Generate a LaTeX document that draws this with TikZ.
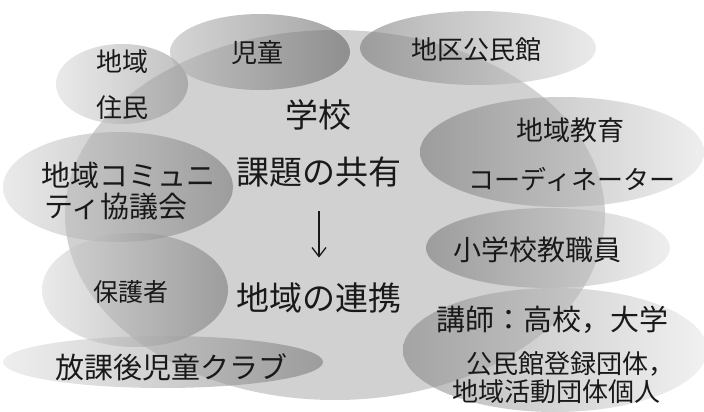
\documentclass[tikz,border=0pt]{standalone}
\usepackage{fontspec}
\newfontfamily\jp{Noto Sans CJK JP}
\usetikzlibrary{arrows.meta}
\begin{document}
\begin{tikzpicture}[x=1pt,y=-1pt,
  blob/.style={fill opacity=0.55},
  lbl/.style={font={\jp\fontsize{#1pt}{#1pt}\selectfont}, inner sep=0pt, text=black!90},
  flow/.style={line width=1.3pt, black!90, -{Straight Barb[length=9pt,width=14pt,line width=1.3pt]}}]
\useasboundingbox (0,0) rectangle (704,412);
% central ellipse
\fill[black!18] (335,215) ellipse [x radius=270pt, y radius=185pt];
% surrounding ellipses
\shade[blob, left color=black!15, right color=black!45] (122,84) ellipse [x radius=66pt, y radius=40pt];
\shade[blob, left color=black!30, right color=black!65] (260,52) ellipse [x radius=90pt, y radius=38pt];
\shade[blob, left color=black!55, right color=black!15] (478,48) ellipse [x radius=118pt, y radius=37pt];
\shade[blob, left color=black!15, right color=black!55] (118,187) ellipse [x radius=115pt, y radius=55pt];
\shade[blob, left color=black!55, right color=black!12] (562,152) ellipse [x radius=142pt, y radius=55pt];
\shade[blob, left color=black!55, right color=black!12] (548,248) ellipse [x radius=122pt, y radius=40pt];
\shade[blob, left color=black!15, right color=black!55] (135,290) ellipse [x radius=93pt, y radius=57pt];
\shade[blob, left color=black!12, right color=black!55] (163,362) ellipse [x radius=160pt, y radius=26pt];
\shade[blob, left color=black!50, right color=black!10] (555,350) ellipse [x radius=152pt, y radius=62pt];
% labels
\node[lbl=26] (chiiki) at (122,62) {地域};
\node[lbl=26] (jumin) at (122,108) {住民};
\node[lbl=26] (jido) at (257,53) {児童};
\node[lbl=26] (kominkan) at (476,50) {地区公民館};
\node[lbl=33] (gakko) at (318,115) {学校};
\node[lbl=33] (kadai) at (319,172) {課題の共有};
\node[lbl=33] (renkei) at (319,298) {地域の連携};
\node[lbl=27] (kyoiku) at (570,130) {地域教育};
\node[lbl=26] (coord) at (572,179) {コーディネーター};
\node[lbl=29] (comm1) at (128,175) {地域コミュニ};
\node[lbl=29] (comm2) at (116,207) {ティ協議会};
\node[lbl=25] (hogo) at (131,292) {保護者};
\node[lbl=29] (club) at (171,367) {放課後児童クラブ};
\node[lbl=28] (shogaku) at (537,250) {小学校教職員};
\node[lbl=29] (koshi) at (552,320) {講師：高校，大学};
\node[lbl=26] (dantai1) at (570,364) {公民館登録団体，};
\node[lbl=26] (dantai2) at (556,392) {地域活動団体個人};
% arrow
\draw[flow, shorten <=24pt, shorten >=25pt] (kadai.south) -- (renkei.north);
\end{tikzpicture}
\end{document}
